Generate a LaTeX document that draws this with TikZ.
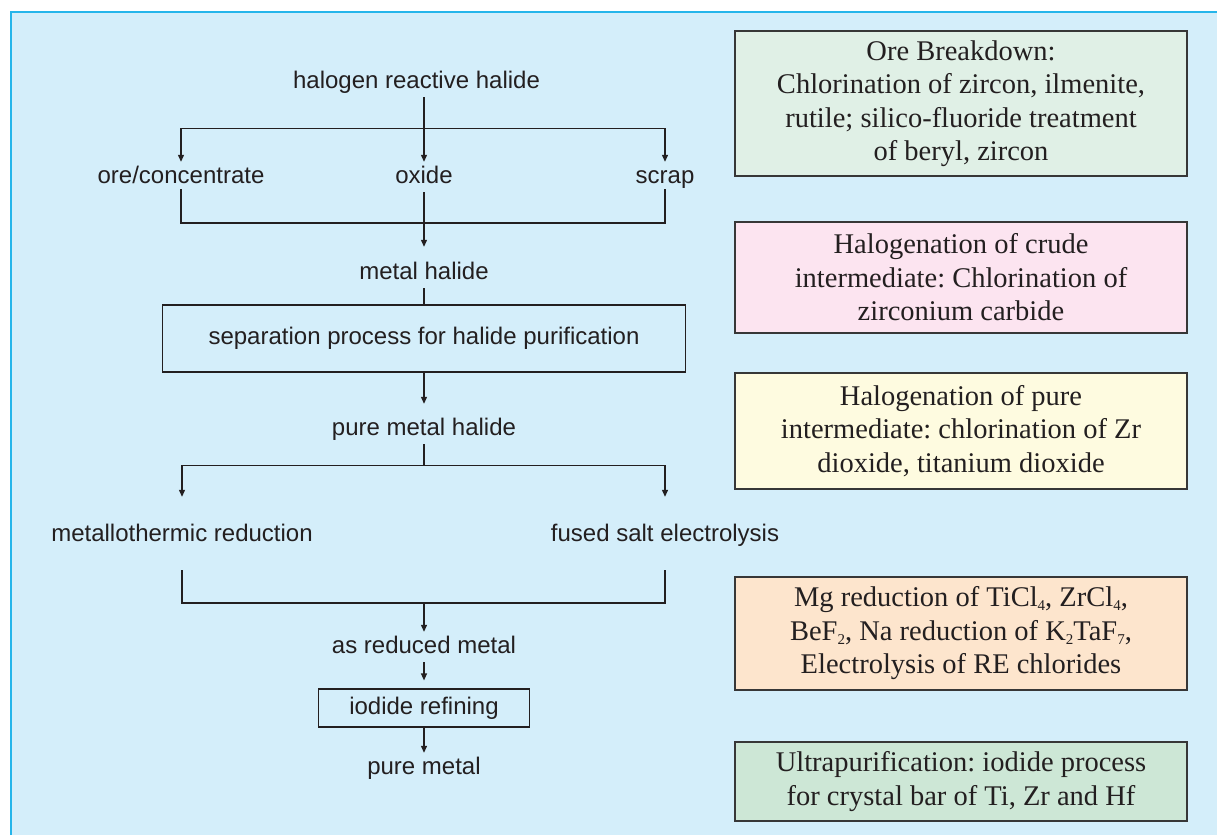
\documentclass[tikz,border=0pt]{standalone}
\usepackage{fontspec}
\setmainfont{Liberation Serif}
\setsansfont{Liberation Sans}
\usetikzlibrary{arrows.meta}
\frenchspacing

% small chemical-formula index set just below the baseline
\newcommand{\chemidx}[1]{\raisebox{-0.3ex}{\fontsize{15}{15}\selectfont #1}}

\definecolor{panelfill}{RGB}{212,238,250}
\definecolor{panelrule}{RGB}{37,181,234}
\definecolor{ink}{RGB}{35,31,32}
\definecolor{boxrule}{RGB}{55,55,55}
\definecolor{oregreen}{RGB}{224,240,230}
\definecolor{crudepink}{RGB}{252,228,240}
\definecolor{pureyellow}{RGB}{254,251,224}
\definecolor{redpeach}{RGB}{253,229,205}
\definecolor{ultragreen}{RGB}{205,231,214}

\begin{document}
\begin{tikzpicture}[x=1pt,y=-1pt,
  flowtext/.style={font=\sffamily\fontsize{24}{28}\selectfont, text=ink,
    inner xsep=0pt, inner ysep=4pt, text height=17pt, text depth=5pt, anchor=base},
  stepbox/.style={draw=ink, line width=1.2pt, font=\sffamily\fontsize{24}{28}\selectfont,
    text=ink, inner sep=0pt},
  infobox/.style={draw=boxrule, line width=1.3pt, minimum width=452pt, align=center,
    font=\fontsize{28.5}{33.5}\selectfont, text=ink, inner sep=0pt},
  link/.style={draw=ink, line width=1.2pt},
  flow/.style={link, -{Triangle[length=7pt,width=6pt]}}
]
\useasboundingbox (0,0) rectangle (1217,835);
\fill[white] (0,0) rectangle (1217,835);
\fill[panelfill] (10,11) rectangle (1217,835);
\draw[panelrule, line width=2.5pt] (11,835) -- (11,12) -- (1217,12);

% flow chart
\node[flowtext] (halogen) at (416.5,88) {halogen reactive halide};
\node[flowtext] (ore) at (181,183) {ore/concentrate};
\node[flowtext] (oxide) at (424,183) {oxide};
\node[flowtext] (scrap) at (665,183) {scrap};
\node[flowtext] (metal) at (424,279) {metal halide};
\node[stepbox, minimum width=523pt, minimum height=67pt] (sep) at (424,338.5)
  {separation process for halide purification};
\node[flowtext] (pure) at (424,435) {pure metal halide};
\node[flowtext] (metallo) at (182,541) {metallothermic reduction};
\node[flowtext] (fused) at (665,541) {fused salt electrolysis};
\node[flowtext] (reduced) at (424,653) {as reduced metal};
\node[stepbox, minimum width=211pt, minimum height=38pt] (iodide) at (424,708)
  {iodide refining};
\node[flowtext] (puremetal) at (424,774) {pure metal};

\coordinate (split1) at (424,128.5);
\coordinate (join1) at (424,223);
\coordinate (split2) at (424,465.5);
\coordinate (join2) at (424,603);

\draw[link] (split1 |- halogen.south) -- (split1);
\draw[flow] (split1) -- (oxide.north);
\draw[flow] (split1) -| (ore.north);
\draw[flow] (split1) -| (scrap.north);
\draw[link, shorten <=-3pt] (ore.south) |- (join1);
\draw[link, shorten <=-3pt] (scrap.south) |- (join1);
\draw[flow, shorten >=11pt] (oxide.south) -- (metal.north);
\draw[link] (metal.south) -- (sep.north);
\draw[flow, shorten >=10pt] (sep.south) -- (pure.north);
\draw[link] (pure.south) -- (split2);
\draw[flow, shorten >=23pt] (split2) -| (metallo.north);
\draw[flow, shorten >=23pt] (split2) -| (fused.north);
\draw[link, shorten <=20pt] (metallo.south) |- (join2);
\draw[link, shorten <=20pt] (fused.south) |- (join2);
\draw[flow] (join2) -- (reduced.north);
\draw[flow, shorten >=8pt] (reduced.south) -- (iodide.north);
\draw[flow] (iodide.south) -- (puremetal.north);

% process notes
\node[infobox, fill=oregreen, minimum height=145pt] (noteore) at (961,103.5)
  {Ore Breakdown:\\Chlorination of zircon, ilmenite,\\rutile; silico-fluoride treatment\\of beryl, zircon};
\node[infobox, fill=crudepink, minimum height=111pt] (notecrude) at (961,277.5)
  {Halogenation of crude\\intermediate: Chlorination of\\zirconium carbide};
\node[infobox, fill=pureyellow, minimum height=116pt] (notepure) at (961,431)
  {Halogenation of pure\\intermediate: chlorination of Zr\\dioxide, titanium dioxide};
\node[infobox, fill=redpeach, minimum height=113pt] (notered) at (961,633.5)
  {Mg reduction of TiCl\chemidx{4}, ZrCl\chemidx{4},\\BeF\chemidx{2}, Na reduction of K\chemidx{2}TaF\chemidx{7},\\Electrolysis of RE chlorides};
\node[infobox, fill=ultragreen, minimum height=79pt] (noteultra) at (961,781.5)
  {Ultrapurification: iodide process\\for crystal bar of Ti, Zr and Hf};
\end{tikzpicture}
\end{document}
